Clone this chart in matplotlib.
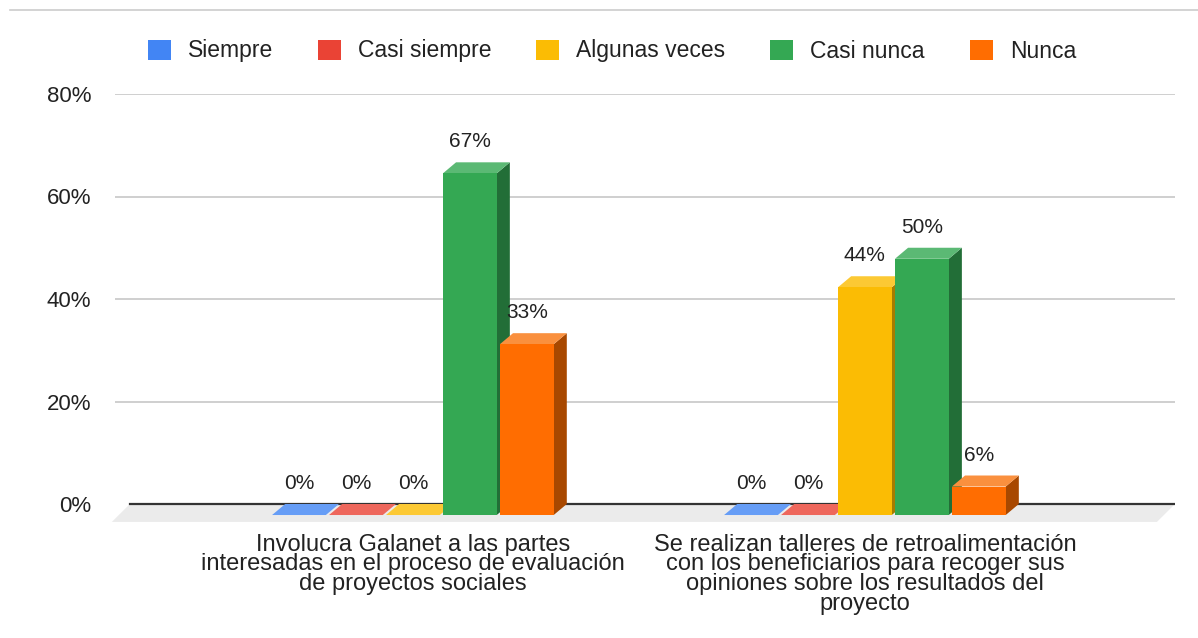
import matplotlib
matplotlib.use("Agg")
import matplotlib.pyplot as plt
from matplotlib.patches import Polygon, Patch
from matplotlib.lines import Line2D

plt.rcParams['font.family'] = ['Liberation Sans', 'DejaVu Sans']

categories = [
    "Involucra Galanet a las partes\ninteresadas en el proceso de evaluación\nde proyectos sociales",
    "Se realizan talleres de retroalimentación\ncon los beneficiarios para recoger sus\nopiniones sobre los resultados del\nproyecto",
]
series = ["Siempre", "Casi siempre", "Algunas veces", "Casi nunca", "Nunca"]
values = [
    [0.0, 0.0, 0.0, 66.67, 33.33],
    [0.0, 0.0, 44.44, 50.0, 5.56],
]
labels = [
    ["0%", "0%", "0%", "67%", "33%"],
    ["0%", "0%", "44%", "50%", "6%"],
]
yticks = [0, 20, 40, 60, 80]

front = ["#4285F4", "#EA4335", "#FBBC04", "#34A853", "#FF6D01"]
top = ["#669DF6", "#EE675C", "#FCC934", "#5BB974", "#FA903E"]
side = ["#2B5BA8", "#A3302A", "#A67C00", "#226E37", "#A84800"]

fig = plt.figure(figsize=(11.98, 6.38), dpi=100)
ax = fig.add_axes([115 / 1198, 1 - 524.5 / 638, 1060 / 1198, 430.5 / 638])
ax.set_xlim(-0.659, 1.686)
ax.set_ylim(-4, 80)

pitch = 0.126
w = 0.119
dx = 0.029
dy = 2.15

for y in yticks[1:]:
    ax.axhline(y, color="#cccccc", lw=1.3, zorder=0)

# floor under the bars
ax.add_patch(Polygon([(-0.666, -3.5), (1.646, -3.5), (1.686, 0), (-0.626, 0)],
                     closed=True, fc="#ebebeb", ec="none", zorder=1, clip_on=False))
ax.plot([-0.626, 1.686], [0, 0], color="#333333", lw=1.6, zorder=1.5)

z = 2
for g, vals in enumerate(values):
    for i, v in enumerate(vals):
        xc = g + (i - 2) * pitch
        x0 = xc - w / 2
        if v > 0:
            ax.add_patch(Polygon([(x0 + w, -dy), (x0 + w + dx, 0), (x0 + w + dx, v), (x0 + w, v - dy)],
                                 closed=True, fc=side[i], ec="none", zorder=z))
        ax.add_patch(Polygon([(x0, v - dy), (x0 + w, v - dy), (x0 + w + dx, v), (x0 + dx, v)],
                             closed=True, fc=top[i], ec="none", zorder=z))
        if v > 0:
            ax.bar(xc, v, width=w, bottom=-dy, color=front[i], zorder=z + 0.5)
        ax.text(xc, v + 4.0, labels[g][i], ha="center", va="center",
                fontsize=15, color="#222222", zorder=10)
        z += 1

ax.set_yticks(yticks)
ax.set_yticklabels([f"{t}%" for t in yticks], fontsize=16, color="#222222")
ax.tick_params(axis="y", length=0, pad=17)
ax.set_xticks([0, 1])
ax.set_xticklabels(categories, fontsize=17, color="#222222", linespacing=0.88)
ax.tick_params(axis="x", length=0, pad=6.5)
for s in ax.spines.values():
    s.set_visible(False)

handles = [Patch(facecolor=c, edgecolor="none") for c in front]
fig.legend(handles, series, loc="center", bbox_to_anchor=(612 / 1198, 1 - 51 / 638),
           ncol=5, frameon=False, fontsize=16.5, handlelength=1.0, handleheight=0.95,
           handletextpad=0.75, columnspacing=1.95, labelcolor="#222222")

fig.add_artist(Line2D([10 / 1198, 1], [1 - 10 / 638, 1 - 10 / 638], color="#cccccc", lw=1.2))

fig.savefig("out.png", dpi=100, facecolor="white")
